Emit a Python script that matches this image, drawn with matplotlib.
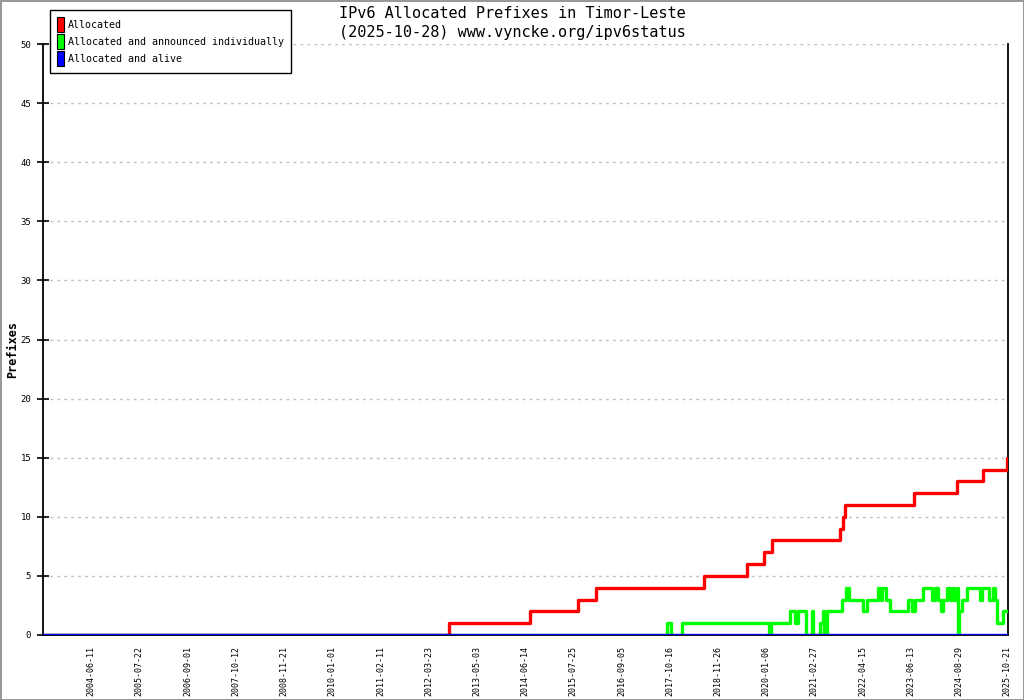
import matplotlib
matplotlib.use('Agg')
import matplotlib.pyplot as plt
import matplotlib.dates as mdates
from matplotlib.patches import Patch
import numpy as np

# x axis labels (the source chart spaces them evenly, one every ~410 days)
tick_labels = ['2004-06-11', '2005-07-22', '2006-09-01', '2007-10-12', '2008-11-21',
               '2010-01-01', '2011-02-11', '2012-03-23', '2013-05-03', '2014-06-14',
               '2015-07-25', '2016-09-05', '2017-10-16', '2018-11-26', '2020-01-06',
               '2021-02-27', '2022-04-15', '2023-06-13', '2024-08-29', '2025-10-21']
start_date = '2003-05-02'
end_date = '2025-10-28'

alloc_dates = ['2003-05-02', '2012-09-09', '2014-07-22', '2015-09-03', '2016-02-05',
               '2018-08-01', '2019-07-30', '2019-12-18', '2020-02-27', '2021-10-03',
               '2021-11-02', '2021-11-17', '2023-07-09', '2024-08-07', '2025-03-28',
               '2025-10-20', '2025-10-28']
alloc_vals = [0, 1, 2, 3, 4, 5, 6, 7, 8, 9, 10, 11, 12, 13, 14, 15, 15]

announced_dates = ['2003-05-02', '2017-09-23', '2017-10-29', '2018-01-31', '2020-02-03',
                   '2020-02-16', '2020-07-30', '2020-09-11', '2020-10-10', '2020-12-16',
                   '2021-02-03', '2021-02-14', '2021-04-15', '2021-05-11', '2021-05-19',
                   '2021-06-14', '2021-10-23', '2021-11-21', '2021-12-22', '2022-04-15',
                   '2022-05-20', '2022-08-30', '2022-09-23', '2022-10-04', '2022-11-06',
                   '2022-12-11', '2023-05-21', '2023-06-26', '2023-07-21', '2023-10-05',
                   '2023-12-27', '2024-01-20', '2024-02-20', '2024-03-13', '2024-04-06',
                   '2024-05-07', '2024-06-06', '2024-06-27', '2024-07-16', '2024-08-07',
                   '2024-08-20', '2024-09-01', '2024-09-21', '2024-11-04', '2025-02-27',
                   '2025-03-19', '2025-05-19', '2025-06-23', '2025-07-07', '2025-07-22',
                   '2025-09-18', '2025-10-28']
announced_vals = [0, 1, 0, 1, 0, 1, 2, 1, 2, 0,
                  2, 0, 1, 2, 0, 2, 3, 4, 3, 2,
                  3, 4, 3, 4, 3, 2, 3, 2, 3, 4,
                  3, 4, 3, 2, 3, 4, 3, 4, 3, 4,
                  0, 2, 3, 4, 3, 4, 3, 4, 3, 1,
                  2, 2]

alive_dates = ['2003-05-02', '2025-10-28']
alive_vals = [0, 0]


def dnum(ds):
  return mdates.datestr2num(ds) if isinstance(ds, str) else np.array([mdates.datestr2num(d) for d in ds])


# piecewise mapping of dates onto evenly spaced tick slots
knot_nums = np.concatenate([[dnum(start_date)], dnum(tick_labels), [dnum(tick_labels[-1]) + 418]])
knot_pos = np.arange(-1, len(tick_labels) + 1)


def to_x(ds):
  return np.interp(dnum(ds), knot_nums, knot_pos)


mono = 'DejaVu Sans Mono'
plt.rcParams['font.family'] = mono

fig = plt.figure(figsize=(10.24, 7.0), dpi=100)
fig.patch.set_edgecolor('#999999')
fig.patch.set_linewidth(2)
ax = fig.add_axes([43 / 1024, 65 / 700, 965 / 1024, 591 / 700])

ax.plot(to_x(announced_dates), announced_vals, drawstyle='steps-post', c='#00ff00', lw=2.4, zorder=3)
ax.plot(to_x(alloc_dates), alloc_vals, drawstyle='steps-post', c='#ff0000', lw=2.4, zorder=4)
ax.plot(to_x(alive_dates), alive_vals, drawstyle='steps-post', c='#0000ff', lw=2.4, zorder=5)

ax.set_xlim(-1, to_x(end_date))
ax.set_ylim(0, 50)

ax.set_xticks(np.arange(len(tick_labels)))
ax.set_xticklabels(tick_labels, rotation=90, fontsize=6)
ax.set_xticks(np.arange(1, len(tick_labels), 2), minor=True)
ax.tick_params(axis='x', which='major', length=0, pad=8)
ax.tick_params(axis='x', which='minor', length=9, direction='inout', width=1.2)
ax.grid(axis='x', which='minor', ls=(0, (2, 3)), c='#c0c0c0', lw=1)

ax.set_yticks(np.arange(0, 51, 5))
ax.tick_params(axis='y', which='major', length=9, direction='inout', width=1.2, labelsize=6.5, pad=4)
ax.grid(axis='y', which='major', ls=(0, (2, 3)), c='#c0c0c0', lw=1)
ax.set_axisbelow(True)

ax.spines['top'].set_visible(False)
for s in ['left', 'bottom', 'right']:
  ax.spines[s].set_linewidth(1.3)

fig.text(13 / 1024, 1 - 350 / 700, 'Prefixes', rotation=90, ha='center', va='center',
         fontsize=8.5, fontweight='bold')
fig.text(512 / 1024, 1 - 14 / 700, 'IPv6 Allocated Prefixes in Timor-Leste', ha='center',
         va='center', fontsize=11)
fig.text(512 / 1024, 1 - 33 / 700, '(2025-10-28) www.vyncke.org/ipv6status', ha='center',
         va='center', fontsize=11)

handles = [Patch(facecolor=c, edgecolor='black', lw=0.8) for c in ['#ff0000', '#00ff00', '#0000ff']]
labels = ['Allocated', 'Allocated and announced individually', 'Allocated and alive']
leg = fig.legend(handles, labels, loc='upper left', bbox_to_anchor=(50 / 1024, 1 - 10 / 700),
                 fontsize=7.2, handlelength=0.7, handleheight=2.0, handletextpad=0.4,
                 labelspacing=0.15, borderpad=0.7, borderaxespad=0, fancybox=False,
                 framealpha=1, edgecolor='black')
leg.get_frame().set_linewidth(1)

fig.savefig('out.png', dpi=100)
